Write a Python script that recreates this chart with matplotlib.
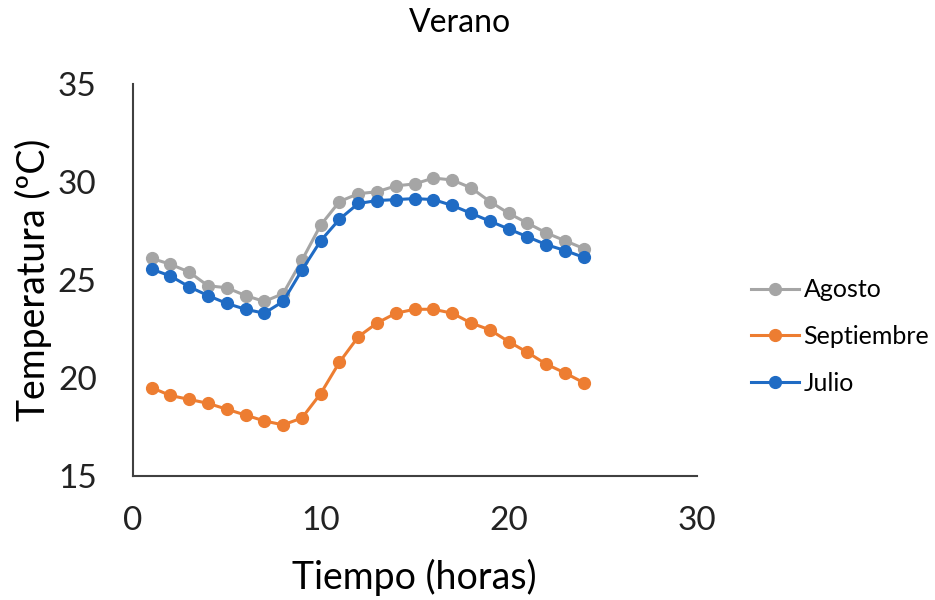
import matplotlib.pyplot as plt
import numpy as np

plt.rcParams['font.family'] = ['Lato', 'DejaVu Sans']

horas = np.arange(1, 25)
agosto = [26.1, 25.8, 25.4, 24.7, 24.6, 24.2, 23.9, 24.3, 26.0, 27.8, 29.0, 29.4,
          29.5, 29.8, 29.9, 30.2, 30.1, 29.7, 29.0, 28.4, 27.9, 27.4, 27.0, 26.6]
septiembre = [19.5, 19.1, 18.9, 18.7, 18.4, 18.1, 17.8, 17.6, 17.95, 19.2, 20.8, 22.1,
              22.8, 23.3, 23.5, 23.5, 23.3, 22.8, 22.45, 21.85, 21.3, 20.7, 20.25, 19.75]
julio = [25.55, 25.2, 24.65, 24.2, 23.8, 23.5, 23.3, 23.9, 25.5, 27.0, 28.1, 28.9,
         29.05, 29.1, 29.15, 29.1, 28.8, 28.4, 28.0, 27.6, 27.2, 26.8, 26.5, 26.15]

series = [("Agosto", agosto, "#A5A5A5"),
          ("Septiembre", septiembre, "#ED7D31"),
          ("Julio", julio, "#1F6BC4")]

fig = plt.figure(figsize=(9.35, 6), dpi=100)
ax = fig.add_axes([0.142, 0.207, 0.603, 0.653])

for nombre, valores, color in series:
    ax.plot(horas, valores, color=color, lw=2.2, marker="o", ms=8.5, label=nombre)

ax.set_xlim(0, 30)
ax.set_ylim(15, 35)
ax.set_xticks([0, 10, 20, 30])
ax.set_yticks([15, 20, 25, 30, 35])
ax.tick_params(length=0, labelsize=24, colors="#222222")
ax.tick_params(axis="x", pad=22)
ax.tick_params(axis="y", pad=26)
for s in ["top", "right"]:
    ax.spines[s].set_visible(False)
for s in ["left", "bottom"]:
    ax.spines[s].set_color("#404040")
    ax.spines[s].set_linewidth(1.5)

ax.set_xlabel("Tiempo (horas)", fontsize=27, labelpad=16)
ax.set_ylabel("Temperatura (ºC)", fontsize=27, labelpad=4)
fig.text(0.492, 0.962, "Verano", ha="center", va="center", fontsize=23)

ax.legend(loc="center left", bbox_to_anchor=(1.07, 0.355), frameon=False,
          fontsize=18, handlelength=1.9, handletextpad=0.2, labelspacing=0.95,
          borderaxespad=0.2)

fig.savefig("out.png", dpi=100)
